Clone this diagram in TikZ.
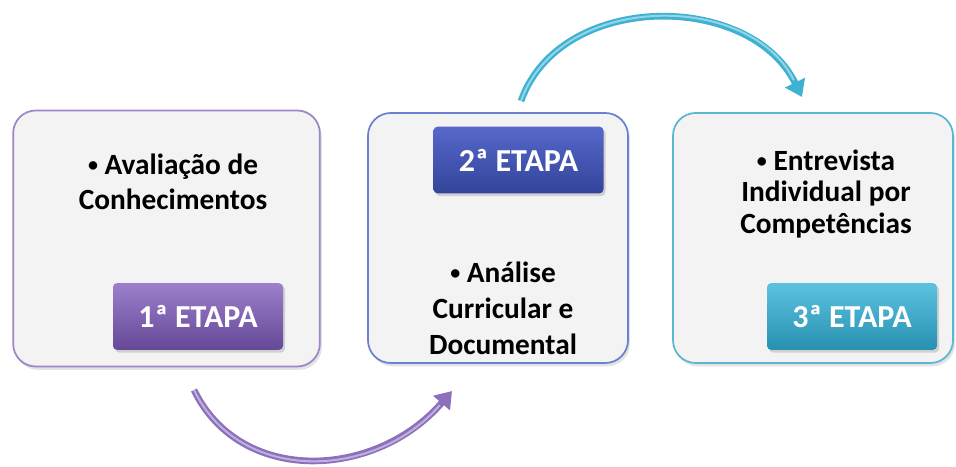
\documentclass[tikz,border=0pt]{standalone}
\usepackage{fontspec}
\setmainfont{Carlito}
\usetikzlibrary{arrows.meta,shadows}

\definecolor{boxgray}{HTML}{F3F3F3}
\definecolor{edgeone}{HTML}{9E86C6}
\definecolor{edgetwo}{HTML}{6B80CF}
\definecolor{edgethree}{HTML}{5BB6CF}
\definecolor{purptop}{HTML}{9D80CC}
\definecolor{purpbot}{HTML}{654896}
\definecolor{bluetop}{HTML}{5668CA}
\definecolor{bluebot}{HTML}{33449A}
\definecolor{tealtop}{HTML}{5CC2E0}
\definecolor{tealbot}{HTML}{2890B0}
\definecolor{arrowpurp}{HTML}{8C70BE}
\definecolor{arrowteal}{HTML}{3FB2D2}

\newcommand{\bulletmark}{\raisebox{2.2pt}{\fontsize{15}{15}\selectfont•}\hspace{5pt}}

\begin{document}
\begin{tikzpicture}[x=0.75pt,y=-0.75pt,
    stagebox/.style={line width=1.3pt, rounded corners=17pt, fill=boxgray,
      inner sep=0pt, drop shadow={shadow xshift=1.5pt, shadow yshift=-2.5pt, opacity=0.22}},
    etapa/.style={rounded corners=3pt, inner sep=0pt, minimum width=127.5pt,
      minimum height=50pt, text=white, font=\fontsize{24}{26}\selectfont\bfseries,
      drop shadow={shadow xshift=1.5pt, shadow yshift=-2pt, opacity=0.3}},
    bullets/.style={align=center, font=\fontsize{22}{26}\selectfont\bfseries},
    curve/.style={line width=5pt, -{Triangle[length=12pt,width=16pt]}}]
        \useasboundingbox (0,0) rectangle (956,467);
        % boxes
        \node[stagebox, draw=edgeone, minimum width=230pt, minimum height=192pt] (b1) at (166.5,238.5) {};
        \node[stagebox, draw=edgetwo, minimum width=195pt, minimum height=187.5pt] (b2) at (498,238) {};
        \node[stagebox, draw=edgethree, minimum width=210pt, minimum height=187.5pt] (b3) at (813,238) {};
        % stage labels
        \node[etapa, top color=purptop, bottom color=purpbot] (l1) at (198,316.5) {1ª ETAPA};
        \node[etapa, top color=bluetop, bottom color=bluebot] (l2) at (518.5,160) {2ª ETAPA};
        \node[etapa, top color=tealtop, bottom color=tealbot] (l3) at (852,316.5) {3ª ETAPA};
        % texts
        \node[bullets] (t1) at (173,182) {\bulletmark Avaliação de\\Conhecimentos};
        \node[bullets, font=\fontsize{22}{27}\selectfont\bfseries] (t2) at (503,308) {\bulletmark Análise\\Curricular e\\Documental};
        \node[bullets, font=\fontsize{22}{23.5}\selectfont\bfseries] (t3) at (826,194) {\bulletmark Entrevista\\Individual por\\Competências};
        % arrows
        \coordinate (p1) at (194,390);
        \coordinate (p2) at (452,391);
        \coordinate (q1) at (521,101);
        \coordinate (q2) at (802,97);
        \draw[curve, arrowpurp] (p1) .. controls (240,485) and (375,480) .. (p2);
        \draw[line width=1.5pt, white, opacity=0.45, shorten >=14pt] (p1) .. controls (240,485) and (375,480) .. (p2);
        \draw[curve, arrowteal] (q1) .. controls (560,-9) and (750,-9) .. (q2);
        \draw[line width=1.5pt, white, opacity=0.45, shorten >=14pt] (q1) .. controls (560,-9) and (750,-9) .. (q2);
\end{tikzpicture}
\end{document}
